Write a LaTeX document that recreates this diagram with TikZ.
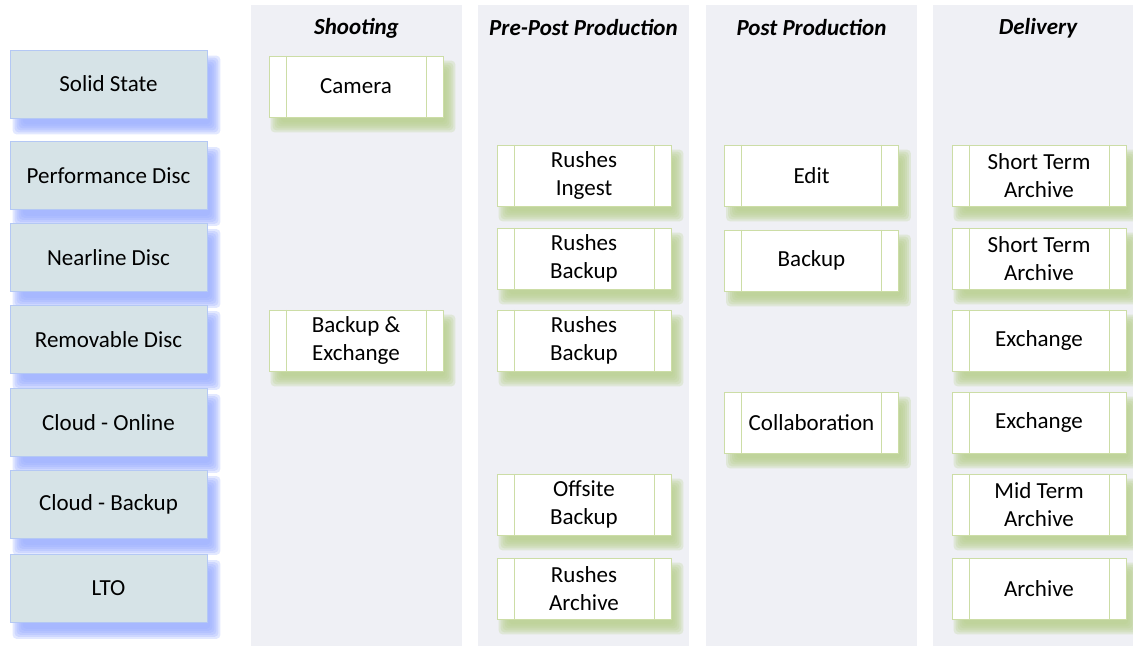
\documentclass[tikz,border=0pt]{standalone}
\usepackage{fontspec}
\setmainfont{Carlito}
\usetikzlibrary{positioning}
\definecolor{laneFill}{HTML}{EFF0F5}
\definecolor{tierFill}{HTML}{D6E3E7}
\definecolor{tierEdge}{HTML}{B4C8F4}
\definecolor{tierShade}{HTML}{98ACFF}
\definecolor{stageEdge}{HTML}{CCDDA6}
\definecolor{stageShade}{HTML}{B8D08E}
\pgfdeclarelayer{lanes}
\pgfdeclarelayer{shade}
\pgfsetlayers{lanes,shade,main}
% soft drop shadow behind a node: name, colour, xshift, yshift
\newcommand\softshade[4]{%
  \foreach \e in {2.5,1.5,0.5,-0.5,-1.5,-2.5}
    \fill[#2, opacity=0.28, rounded corners=2pt]
      ([shift={({#3-\e*1pt},{#4-\e*1pt})}]#1.south west)
      rectangle ([shift={({#3+\e*1pt},{#4+\e*1pt})}]#1.north east);}
\tikzset{
  lane/.style  = {fill=laneFill, draw=none, anchor=north west, inner sep=0pt,
                  minimum height=320.5pt},
  head/.style  = {font=\fontsize{11.5}{14}\selectfont\bfseries\itshape, inner sep=0pt},
  tier/.style  = {draw=tierEdge, fill=tierFill, inner sep=0pt, align=center,
                  minimum width=98.5pt, minimum height=34pt,
                  font=\fontsize{11.5}{14}\selectfont},
  stage/.style = {draw=stageEdge, fill=white, inner sep=0pt, align=center,
                  minimum width=87pt, minimum height=30.5pt,
                  font=\fontsize{11.5}{14}\selectfont,
                  path picture={
                    \draw[stageEdge] ([xshift=8.5pt]path picture bounding box.north west)
                      -- ([xshift=8.5pt]path picture bounding box.south west);
                    \draw[stageEdge] ([xshift=-8.5pt]path picture bounding box.north east)
                      -- ([xshift=-8.5pt]path picture bounding box.south east);}}
}

\begin{document}
\begin{tikzpicture}[x=0.5pt, y=-0.5pt]
  \useasboundingbox (0,0) rectangle (1133,646);
  % lanes and their headings
  \begin{pgfonlayer}{lanes}
    \node[lane, minimum width=105.5pt] (lane1) at (251,5) {};
    \node[lane, minimum width=105.5pt] (lane2) at (478,5) {};
    \node[lane, minimum width=105.5pt] (lane3) at (706,5) {};
    \node[lane, minimum width=100pt]   (lane4) at (933,5) {};
  \end{pgfonlayer}
  \node[head] (h1) at (356.5,28) {Shooting};
  \node[head] (h2) at (583.5,28) {Pre-Post Production};
  \node[head] (h3) at (811.5,28) {Post Production};
  \node[head] (h4) at (1038,28)  {Delivery};

  % storage tiers
  \node[tier] (t1) at (108.5,84)    {Solid State};
  \node[tier] (t2) at (108.5,175.5) {Performance Disc};
  \node[tier] (t3) at (108.5,257.5) {Nearline Disc};
  \node[tier] (t4) at (108.5,339.5) {Removable Disc};
  \node[tier] (t5) at (108.5,422.5) {Cloud - Online};
  \node[tier] (t6) at (108.5,504.5) {Cloud - Backup};
  \node[tier] (t7) at (108.5,588.5) {LTO};

  % shooting
  \node[stage] (sh1) at (356,86.5)  {Camera};
  \node[stage] (sh4) at (356,340.5) {Backup \&\\Exchange};

  % pre-post production
  \node[stage] (pp2) at (584,175.5) {Rushes\\Ingest};
  \node[stage] (pp3) at (584,258.5) {Rushes\\Backup};
  \node[stage] (pp4) at (584,340.5) {Rushes\\Backup};
  \node[stage] (pp6) at (584,504.5) {Offsite\\Backup};
  \node[stage] (pp7) at (584,588.5) {Rushes\\Archive};

  % post production
  \node[stage] (po2) at (811.5,175.5) {Edit};
  \node[stage] (po3) at (811.5,260.5) {Backup};
  \node[stage] (po5) at (811.5,422.5) {Collaboration};

  % delivery
  \node[stage] (dl2) at (1039,175.5) {Short Term\\Archive};
  \node[stage] (dl3) at (1039,258.5) {Short Term\\Archive};
  \node[stage] (dl4) at (1039,340.5) {Exchange};
  \node[stage] (dl5) at (1039,422.5) {Exchange};
  \node[stage] (dl6) at (1039,504.5) {Mid Term\\Archive};
  \node[stage] (dl7) at (1039,588.5) {Archive};

  % shadows
  \begin{pgfonlayer}{shade}
    \foreach \n in {t1,t2,t3,t4,t5,t6,t7}
      \softshade{\n}{tierShade}{4pt}{-5.5pt};
    \foreach \n in {sh1,sh4,pp2,pp3,pp4,pp6,pp7,po2,po3,po5,dl2,dl3,dl4,dl5,dl6,dl7}
      \softshade{\n}{stageShade}{3.5pt}{-5pt};
  \end{pgfonlayer}
\end{tikzpicture}
\end{document}
